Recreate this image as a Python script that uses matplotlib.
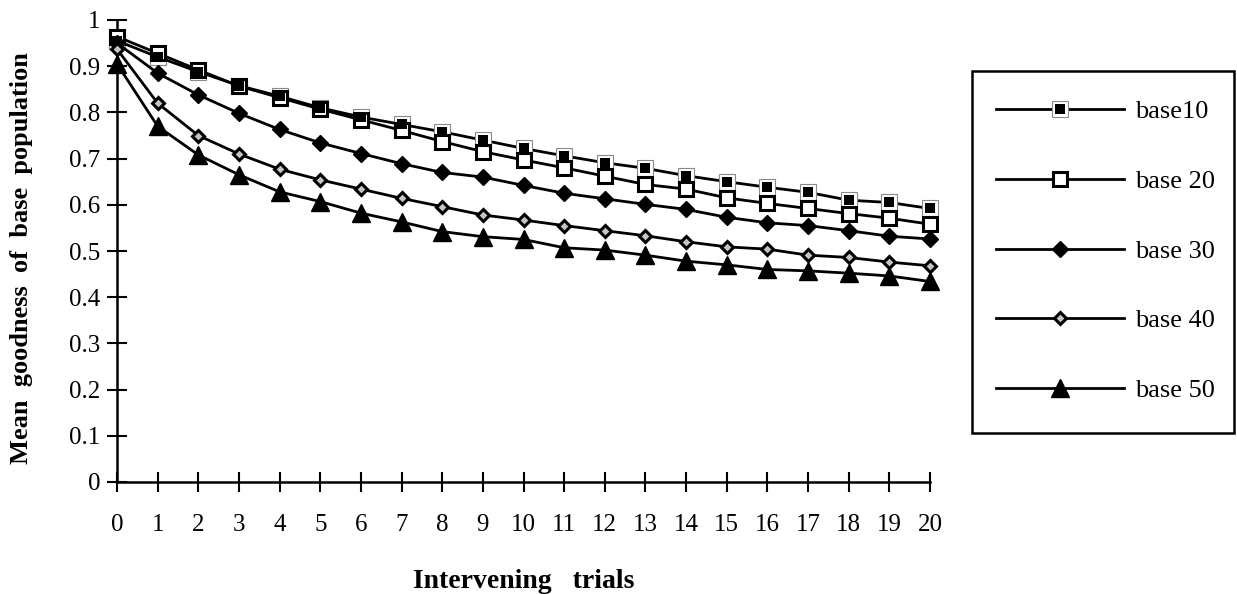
import matplotlib
matplotlib.use('Agg')
import matplotlib.pyplot as plt
from matplotlib.legend_handler import HandlerTuple
from matplotlib.patches import Rectangle

plt.rcParams['font.family'] = ['Liberation Serif', 'DejaVu Serif']

# --- data ---
trials = list(range(21))
base10 = [0.955, 0.920, 0.888, 0.858, 0.835, 0.810, 0.790, 0.774, 0.758, 0.740, 0.722,
          0.706, 0.691, 0.679, 0.663, 0.650, 0.638, 0.627, 0.610, 0.605, 0.592]
base20 = [0.964, 0.928, 0.892, 0.857, 0.832, 0.807, 0.784, 0.761, 0.737, 0.715, 0.697,
          0.680, 0.662, 0.644, 0.634, 0.615, 0.603, 0.592, 0.581, 0.571, 0.558]
base30 = [0.950, 0.885, 0.838, 0.798, 0.763, 0.734, 0.711, 0.689, 0.670, 0.660, 0.642,
          0.625, 0.613, 0.601, 0.590, 0.573, 0.561, 0.555, 0.544, 0.532, 0.526]
base40 = [0.937, 0.820, 0.750, 0.710, 0.677, 0.654, 0.634, 0.614, 0.596, 0.578, 0.567,
          0.555, 0.544, 0.533, 0.520, 0.509, 0.504, 0.491, 0.486, 0.476, 0.468]
base50 = [0.905, 0.770, 0.708, 0.665, 0.628, 0.607, 0.582, 0.563, 0.542, 0.531, 0.525,
          0.507, 0.502, 0.491, 0.478, 0.470, 0.460, 0.457, 0.452, 0.446, 0.434]
labels = ['base10', 'base 20', 'base 30', 'base 40', 'base 50']
yticks = [0, 0.1, 0.2, 0.3, 0.4, 0.5, 0.6, 0.7, 0.8, 0.9, 1]
ytick_labels = ['0', '0.1', '0.2', '0.3', '0.4', '0.5', '0.6', '0.7', '0.8', '0.9', '1']

W, H = 1237, 594
fig = plt.figure(figsize=(W / 100, H / 100), dpi=100)
ax = fig.add_axes([117 / W, 1 - 482 / H, (930 - 117) / W, (482 - 20) / H])

lw = 2.0
# base10: black square in a white/grey frame -> two layers
h10a, = ax.plot(trials, base10, '-', color='black', lw=lw, marker='s', ms=11,
                mfc='white', mec='#8a8a8a', mew=0.8, clip_on=False, zorder=3)
h10b, = ax.plot(trials, base10, 'none', marker='s', ms=7.5, mfc='black', mec='black',
                mew=0, clip_on=False, zorder=3.1)
h20, = ax.plot(trials, base20, '-', color='black', lw=lw, marker='s', ms=9.5,
               mfc='white', mec='black', mew=2.2, clip_on=False, zorder=3)
h30, = ax.plot(trials, base30, '-', color='black', lw=lw, marker='D', ms=8.5,
               mfc='black', mec='black', mew=1, clip_on=False, zorder=3)
h40, = ax.plot(trials, base40, '-', color='black', lw=lw, marker='D', ms=6.5,
               mfc='#c4c4c4', mec='black', mew=2.2, clip_on=False, zorder=3)
h50, = ax.plot(trials, base50, '-', color='black', lw=lw, marker='^', ms=13,
               mfc='black', mec='black', mew=1, clip_on=False, zorder=3)

ax.set_xlim(0, 20)
ax.set_ylim(0, 1)
ax.set_xticks(trials)
ax.set_yticks(yticks)
ax.set_yticklabels(ytick_labels)

for s in ['top', 'right']:
    ax.spines[s].set_visible(False)
for s in ['left', 'bottom']:
    ax.spines[s].set_linewidth(1.8)
ax.tick_params(axis='both', direction='inout', length=14, width=1.5, labelsize=18)
ax.tick_params(axis='x', pad=16)
ax.tick_params(axis='y', pad=5)

ax.set_xlabel('Intervening   trials', fontsize=20, fontweight='bold', labelpad=24)
fig.text(22 / W, 1 - 258 / H, 'Mean  goodness  of  base  population', rotation=90,
         fontsize=19, fontweight='bold', ha='center', va='center')

# legend entries without frame, the box is drawn separately
leg = fig.legend([(h10a, h10b), h20, h30, h40, h50], labels,
                 handler_map={tuple: HandlerTuple(ndivide=1, pad=0)},
                 loc='upper left', bbox_to_anchor=(996 / W, 1 - 100 / H),
                 fontsize=19, frameon=False, handlelength=4.85, handletextpad=0.4,
                 labelspacing=1.75, borderpad=0, borderaxespad=0)
fig.patches.append(Rectangle((972 / W, 1 - 433 / H), (1234 - 972) / W, (433 - 71) / H,
                             transform=fig.transFigure, fill=False,
                             edgecolor='black', linewidth=1.8))

fig.savefig('out.png', dpi=100)
